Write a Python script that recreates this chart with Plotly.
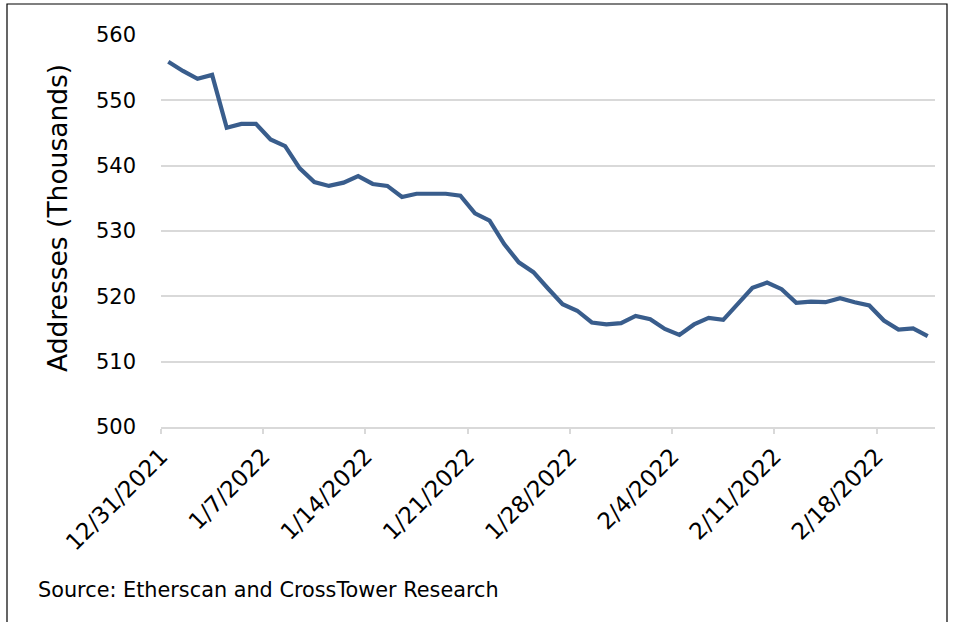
import plotly.graph_objects as go
import pandas as pd

# ---- data ----
start_date = "2021-12-31"
end_date = "2022-02-21"
addresses_k = [
    555.9, 554.5, 553.3, 553.9, 545.8, 546.4, 546.4, 544.0, 543.0, 539.6,
    537.5, 536.9, 537.4, 538.4, 537.2, 536.9, 535.2, 535.7, 535.7, 535.7,
    535.4, 532.7, 531.6, 528.0, 525.2, 523.7, 521.2, 518.8, 517.8, 516.0,
    515.7, 515.9, 517.0, 516.5, 515.0, 514.1, 515.7, 516.7, 516.4, 518.8,
    521.3, 522.1, 521.1, 519.0, 519.2, 519.1, 519.7, 519.1, 518.6, 516.3,
    514.9, 515.1, 513.9,
]
tick_labels = ["12/31/2021", "1/7/2022", "1/14/2022", "1/21/2022",
               "1/28/2022", "2/4/2022", "2/11/2022", "2/18/2022"]
y_ticks = [500, 510, 520, 530, 540, 550, 560]
y_title = "Addresses (Thousands)"
source_text = "Source: Etherscan and CrossTower Research"

# ---- build ----
dates = pd.date_range(start_date, end_date, freq="D")
half = pd.Timedelta(hours=12)
x_pts = dates + half  # points centred in each day slot (Excel "between tick marks")
tick_pos = pd.to_datetime(tick_labels, format="%m/%d/%Y")

W, H = 953, 622
L, R, T, B = 161, 18, 35, 195
pw, ph = W - L - R, H - T - B

GRID = "#d9d9d9"
FONT = "DejaVu Sans"

fig = go.Figure()
fig.add_trace(go.Scatter(
    x=x_pts, y=addresses_k, mode="lines",
    line=dict(color="#395d8c", width=4.2, shape="linear"),
    hoverinfo="x+y", showlegend=False,
))

fig.update_layout(
    width=W, height=H,
    margin=dict(l=L, r=R, t=T, b=B, pad=0),
    paper_bgcolor="white", plot_bgcolor="white",
    font=dict(family=FONT, color="#000000"),
    xaxis=dict(
        type="date",
        range=[dates[0], dates[-1] + 2 * half],
        tickmode="array", tickvals=list(tick_pos), ticktext=tick_labels,
        tickangle=-45, tickfont=dict(size=23, family=FONT, color="#000000"),
        ticks="outside", ticklen=5, tickcolor=GRID, tickwidth=1.5,
        showgrid=False, showline=True, linecolor=GRID, linewidth=1.5,
        zeroline=False, fixedrange=True,
    ),
    yaxis=dict(
        range=[500, 560], tickmode="array", tickvals=y_ticks,
        tickfont=dict(size=21, family=FONT, color="#000000"),
        ticks="", ticklabelstandoff=24,
        showgrid=True, gridcolor=GRID, gridwidth=1.5,
        showline=False, zeroline=False, fixedrange=True,
    ),
)

def px_x(px):
    return (px - L) / pw

def px_y(py):
    return (H - B - py) / ph

fig.add_annotation(
    text=y_title, xref="paper", yref="paper", x=px_x(57), y=px_y(218),
    textangle=-90, showarrow=False, xanchor="center", yanchor="middle",
    font=dict(size=26.5, family=FONT, color="#000000"),
)
fig.add_annotation(
    text=source_text, xref="paper", yref="paper", x=px_x(36), y=px_y(590),
    showarrow=False, xanchor="left", yanchor="middle",
    font=dict(size=20.8, family=FONT, color="#000000"),
)
fig.add_shape(
    type="rect", xref="paper", yref="paper",
    x0=px_x(7), x1=px_x(947), y0=px_y(630), y1=px_y(4),
    line=dict(color="#000000", width=1.2), fillcolor="rgba(0,0,0,0)",
    layer="below",
)

fig.write_html("out.html", config={"displayModeBar": False})
